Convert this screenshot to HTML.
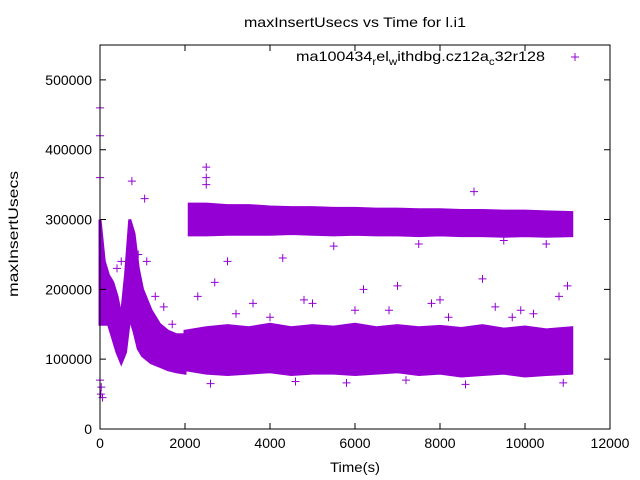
<!DOCTYPE html>
<html><head><meta charset="utf-8"><style>
body{margin:0;background:#fff}
svg{display:block;font-family:"Liberation Sans",sans-serif}
</style></head><body>
<svg id="chart" width="640" height="480">
<rect width="640" height="480" fill="#fff"/>
<text x="355" y="27" font-size="14" text-anchor="middle" textLength="222" lengthAdjust="spacingAndGlyphs">maxInsertUsecs vs Time for l.i1</text>
<text x="355" y="472" font-size="14" text-anchor="middle" textLength="50" lengthAdjust="spacingAndGlyphs">Time(s)</text>
<text transform="translate(18,234) rotate(-90)" font-size="14" text-anchor="middle" textLength="126" lengthAdjust="spacingAndGlyphs">maxInsertUsecs</text>
<g id="bands"></g><g id="marks"></g><g id="axes"></g>
<g>
<text x="296" y="61" font-size="14" textLength="249" lengthAdjust="spacingAndGlyphs">ma100434<tspan dy="4" font-size="10">r</tspan><tspan dy="-4">el</tspan><tspan dy="4" font-size="10">w</tspan><tspan dy="-4">ithdbg.cz12a</tspan><tspan dy="4" font-size="10">c</tspan><tspan dy="-4">32r128</tspan></text>
<path d="M571 57h8M575 53v8" stroke="#9400d3" stroke-width="1"/>
</g>
</svg>
<script>
const xTicks=[0,2000,4000,6000,8000,10000,12000];
const yTicks=[0,100000,200000,300000,400000,500000];
// envelope of dense clouds (values in usecs)
const earlyT=[0,100,200,300,400,500,600,700,800,900,1000,1200,1400,1600,1800,2000];
const earlyLow=[150000,150000,150000,130000,110000,95000,110000,160000,140000,115000,105000,95000,90000,85000,82000,80000];
const earlyHigh=[300000,240000,220000,210000,190000,160000,220000,300000,280000,230000,200000,170000,150000,140000,135000,135000];
const lowT=[2000,2500,3000,3500,4000,4500,5000,5500,6000,6500,7000,7500,8000,8500,9000,9500,10000,10500,11100];
const lowLow=[85000,80000,78000,80000,82000,78000,80000,80000,78000,80000,82000,78000,80000,76000,78000,80000,76000,78000,80000];
const lowHigh=[140000,145000,148000,145000,150000,145000,148000,146000,150000,145000,148000,145000,147000,144000,148000,143000,146000,142000,145000];
const upT=[2100,2500,3000,3500,4000,4500,5000,5500,6000,6500,7000,7500,8000,8500,9000,9500,10000,10500,11100];
const upLow=[278000,278000,279000,279000,279000,280000,279000,278000,279000,278000,278000,277000,278000,277000,277000,276000,277000,276000,277000];
const upHigh=[322000,322000,320000,320000,318000,317000,317000,316000,316000,315000,315000,314000,314000,313000,313000,312000,312000,311000,310000];
// individual scattered points
const ptT=[0,0,0,20,30,60,0,750,1050,300,500,2500,2500,2500,8800,3000,4300,2300,2700,6200,7000,9000,11000,10800,5000,8000,3600,4800,6800,7800,9300,9900,2200,5500,6500,7500,8500,9500,10500,4000,3200,6000,8200,10200,9700,2600,4600,5800,7200,8600,10900,1500,1700,1900,1100,1300,900,400];
const ptV=[460000,420000,360000,50000,60000,45000,70000,355000,330000,170000,240000,375000,360000,350000,340000,240000,245000,190000,210000,200000,205000,215000,205000,190000,180000,185000,180000,185000,170000,180000,175000,170000,300000,262000,296000,265000,300000,270000,265000,160000,165000,170000,160000,165000,160000,65000,68000,66000,70000,64000,66000,175000,150000,115000,240000,190000,250000,230000];
const X0=100,X1=610,Y0=429,YT=45,XMAX=12000,YMAX=550000;
const sx=v=>X0+(v/XMAX)*(X1-X0);
const sy=v=>Y0-(v/YMAX)*(Y0-YT);
const NS="http://www.w3.org/2000/svg";
const C="#9400d3";
function band(g,t,lo,hi,name){
  let d="M"+t.map((v,i)=>sx(v)+","+sy(hi[i])).join("L");
  for(let i=t.length-1;i>=0;i--)d+="L"+sx(t[i])+","+sy(lo[i]);
  const p=document.createElementNS(NS,"path");
  p.setAttribute("d",d+"Z");p.setAttribute("fill",C);p.setAttribute("stroke",C);p.setAttribute("stroke-width","3");
  
  
  g.appendChild(p);
}
const bg=document.getElementById("bands");
band(bg,earlyT,earlyLow,earlyHigh,"early-cloud");
band(bg,lowT,lowLow,lowHigh,"lower-cloud");
band(bg,upT,upLow,upHigh,"upper-cloud");
const mg=document.getElementById("marks");
ptT.forEach((t,i)=>{
  const x=sx(t),y=sy(ptV[i]);
  const p=document.createElementNS(NS,"path");
  p.setAttribute("d",`M${x-4} ${y}h8M${x} ${y-4}v8`);p.setAttribute("stroke",C);
  
  
  mg.appendChild(p);
});
const ag=document.getElementById("axes");
let h=`<rect x="${X0}" y="${YT}" width="${X1-X0}" height="${Y0-YT}" fill="none" stroke="#000"/>`;
xTicks.forEach(v=>{const x=sx(v);h+=`<path d="M${x} ${Y0}v-6M${x} ${YT}v6" stroke="#000"/><text x="${x}" y="448" font-size="14" text-anchor="middle">${v}</text>`;});
yTicks.forEach(v=>{const y=sy(v);h+=`<path d="M${X0} ${y}h6M${X1} ${y}h-6" stroke="#000"/><text x="92" y="${y+5}" font-size="14" text-anchor="end">${v}</text>`;});
ag.innerHTML=h;


</script>
</body></html>
